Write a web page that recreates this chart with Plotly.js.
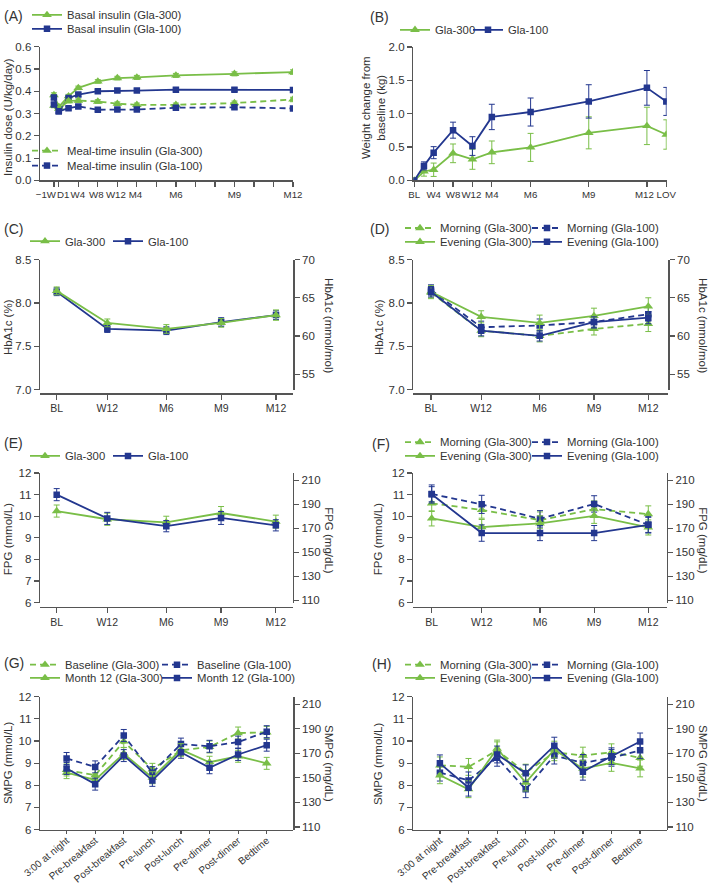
<!DOCTYPE html>
<html><head><meta charset="utf-8">
<script src="https://cdn.plot.ly/plotly-3.0.1.min.js"></script>
<style>html,body{margin:0;padding:0;background:#fff}#chart{width:709px;height:886px}</style>
</head><body><div id="chart"></div>
<script>
// ---------- DATA ----------
// (A) insulin dose, x in months
const aX = [-0.25, 0, 0.5, 1, 2, 3, 4, 6, 9, 12];
const aTickVals = [-0.25, 0, 1, 2, 3, 4, 5, 6, 7, 8, 9, 10, 11, 12];
const aLabelVals = [-0.25, 0, 1, 2, 3, 4, 6, 9, 12];
const aLabelText = ['\u22121W', 'D1', 'W4', 'W8', 'W12', 'M4', 'M6', 'M9', 'M12'];
const basal300 = [0.383, 0.330, 0.378, 0.415, 0.444, 0.459, 0.462, 0.471, 0.478, 0.486];
const basal300Err = [0.010, 0.008, 0.008, 0.008, 0.008, 0.008, 0.009, 0.009, 0.009, 0.010];
const basal100 = [0.372, 0.310, 0.370, 0.385, 0.400, 0.403, 0.403, 0.407, 0.407, 0.406];
const basal100Err = [0.010, 0.008, 0.008, 0.008, 0.008, 0.008, 0.008, 0.008, 0.008, 0.009];
const meal300 = [0.335, 0.322, 0.356, 0.358, 0.354, 0.344, 0.339, 0.339, 0.347, 0.363];
const meal300Err = [0.009, 0.008, 0.008, 0.008, 0.008, 0.008, 0.008, 0.008, 0.009, 0.010];
const meal100 = [0.340, 0.310, 0.324, 0.332, 0.317, 0.318, 0.318, 0.326, 0.328, 0.323];
const meal100Err = [0.009, 0.008, 0.008, 0.008, 0.008, 0.008, 0.008, 0.008, 0.008, 0.009];

// (B) weight change, x in months (LOV = 13)
const bX = [0, 0.5, 1, 2, 3, 4, 6, 9, 12, 13];
const bTickVals = [0, 1, 2, 3, 4, 6, 9, 12, 13];
const bTickText = ['BL', 'W4', 'W8', 'W12', 'M4', 'M6', 'M9', 'M12', 'LOV'];
const wt300 = [0, 0.134, 0.16, 0.406, 0.317, 0.421, 0.495, 0.713, 0.817, 0.688];
const wt300Err = [0, 0.07, 0.10, 0.14, 0.15, 0.17, 0.21, 0.24, 0.28, 0.22];
const wt100 = [0, 0.218, 0.416, 0.753, 0.515, 0.951, 1.025, 1.184, 1.387, 1.184];
const wt100Err = [0, 0.06, 0.09, 0.12, 0.14, 0.19, 0.21, 0.25, 0.26, 0.21];

// (C)-(F) x in weeks
const vX = [0, 12, 26, 39, 52];
const vTickText = ['BL', 'W12', 'M6', 'M9', 'M12'];

// (C) HbA1c
const hba300 = [8.14, 7.77, 7.70, 7.77, 7.86];
const hba300Err = [0.045, 0.045, 0.05, 0.05, 0.06];
const hba100 = [8.13, 7.70, 7.68, 7.78, 7.86];
const hba100Err = [0.045, 0.04, 0.045, 0.05, 0.05];

// (D) HbA1c morning / evening
const hbaMorn300 = [8.12, 7.68, 7.62, 7.70, 7.76];
const hbaMorn300Err = [0.07, 0.07, 0.07, 0.07, 0.09];
const hbaEve300 = [8.13, 7.84, 7.77, 7.85, 7.96];
const hbaEve300Err = [0.07, 0.07, 0.09, 0.09, 0.10];
const hbaMorn100 = [8.15, 7.72, 7.74, 7.78, 7.87];
const hbaMorn100Err = [0.06, 0.07, 0.075, 0.07, 0.08];
const hbaEve100 = [8.13, 7.68, 7.62, 7.78, 7.83];
const hbaEve100Err = [0.06, 0.06, 0.06, 0.06, 0.07];

// (E) FPG
const fpg300 = [10.24, 9.86, 9.72, 10.15, 9.75];
const fpg300Err = [0.28, 0.28, 0.28, 0.30, 0.30];
const fpg100 = [11.0, 9.90, 9.54, 9.92, 9.58];
const fpg100Err = [0.28, 0.28, 0.26, 0.30, 0.26];

// (F) FPG morning / evening
const fpgMorn300 = [10.60, 10.29, 9.82, 10.33, 10.10];
const fpgMorn300Err = [0.38, 0.38, 0.38, 0.38, 0.38];
const fpgEve300 = [9.90, 9.50, 9.67, 10.02, 9.48];
const fpgEve300Err = [0.35, 0.35, 0.35, 0.35, 0.35];
const fpgMorn100 = [11.03, 10.55, 9.88, 10.57, 9.60];
const fpgMorn100Err = [0.42, 0.42, 0.38, 0.38, 0.38];
const fpgEve100 = [11.02, 9.22, 9.22, 9.22, 9.60];
const fpgEve100Err = [0.35, 0.38, 0.35, 0.35, 0.35];

// (G)-(H) SMPG profile
const smpgCats = ['3:00 at night', 'Pre-breakfast', 'Post-breakfast', 'Pre-lunch', 'Post-lunch', 'Pre-dinner', 'Post-dinner', 'Bedtime'];
const smpgBase300 = [8.69, 8.45, 9.98, 8.72, 9.58, 9.73, 10.36, 10.39];
const smpgBase100 = [9.21, 8.83, 10.25, 8.57, 9.86, 9.76, 9.95, 10.42];
const smpgM12_300 = [8.57, 8.24, 9.43, 8.34, 9.61, 9.04, 9.31, 8.99];
const smpgM12_100 = [8.76, 8.05, 9.34, 8.22, 9.49, 8.79, 9.39, 9.81];
const smpgGErr = [0.27, 0.27, 0.27, 0.27, 0.27, 0.27, 0.27, 0.27];
const smpgMorn300 = [8.90, 8.83, 9.58, 8.57, 9.49, 9.34, 9.49, 9.24];
const smpgEve300 = [8.45, 7.82, 9.66, 8.12, 9.61, 8.75, 9.01, 8.76];
const smpgMorn100 = [8.57, 8.22, 9.24, 7.82, 9.34, 9.01, 9.24, 9.58];
const smpgEve100 = [8.99, 7.89, 9.39, 8.54, 9.79, 8.61, 9.31, 9.98];
const smpgHErr = [0.38, 0.38, 0.38, 0.38, 0.38, 0.38, 0.38, 0.38];

// ---------- STYLE / LAYOUT ----------
const W = 709, H = 886;
const px = v => v / W, py = v => 1 - v / H;
const GREEN = '#79BE47', BLUE = '#23378F', AX = '#555', TXT = '#333';
const FONT = '"Liberation Sans", Arial, sans-serif';
const TF = {family: FONT, size: 11.5, color: TXT};
const XF = {family: FONT, size: 10.5, color: TXT};
const XFS = {family: FONT, size: 9.7, color: TXT};
const XFC = {family: FONT, size: 10, color: TXT};
const DASH = '6px,4px';

// legend slots: [item origin x px, row centre y px]
const legendSlots = [];
function tr(name, x, y, err, color, dash, sym, xa, ya, slot) {
  legendSlots.push(slot);
  const n = legendSlots.length;
  return {type: 'scatter', mode: 'lines+markers', name, x, y, xaxis: xa, yaxis: ya,
    legend: n === 1 ? 'legend' : 'legend' + n,
    line: {color, width: 1.8, dash: dash ? DASH : 'solid'},
    marker: {symbol: sym, size: sym === 'triangle-up' ? 8.5 : 6.5, color},
    error_y: {type: 'data', array: err, visible: true, color, thickness: 1, width: 3},
    hoverinfo: 'skip'};
}
const G3 = (n, x, y, e, xa, ya, d, slot) => tr(n, x, y, e, GREEN, d, 'triangle-up', xa, ya, slot);
const B1 = (n, x, y, e, xa, ya, d, slot) => tr(n, x, y, e, BLUE, d, 'square', xa, ya, slot);
function dummy(xa, ya) { return {type: 'scatter', x: [null], y: [null], xaxis: xa, yaxis: ya, showlegend: false, hoverinfo: 'skip'}; }

const LX1 = 27, LXC2 = 108, LXR1 = 400, LXR2 = 527, LXG2 = 157;
const data = [
  G3('Basal insulin (Gla-300)', aX, basal300, basal300Err, 'x', 'y', false, [LX1, 10]),
  B1('Basal insulin (Gla-100)', aX, basal100, basal100Err, 'x', 'y', false, [LX1, 24]),
  G3('Meal-time insulin (Gla-300)', aX, meal300, meal300Err, 'x', 'y', true, [LX1, 147]),
  B1('Meal-time insulin (Gla-100)', aX, meal100, meal100Err, 'x', 'y', true, [LX1, 162]),

  G3('Gla-300', bX, wt300, wt300Err, 'x2', 'y2', false, [395, 25]),
  B1('Gla-100', bX, wt100, wt100Err, 'x2', 'y2', false, [468, 25]),

  B1('Gla-100', vX, hba100, hba100Err, 'x3', 'y3', false, [LXC2, 238.3]),
  G3('Gla-300', vX, hba300, hba300Err, 'x3', 'y3', false, [25, 238.3]),
  dummy('x3', 'y4'),

  G3('Morning (Gla-300)', vX, hbaMorn300, hbaMorn300Err, 'x4', 'y5', true, [LXR1, 225]),
  B1('Morning (Gla-100)', vX, hbaMorn100, hbaMorn100Err, 'x4', 'y5', true, [LXR2, 225]),
  G3('Evening (Gla-300)', vX, hbaEve300, hbaEve300Err, 'x4', 'y5', false, [LXR1, 239]),
  B1('Evening (Gla-100)', vX, hbaEve100, hbaEve100Err, 'x4', 'y5', false, [LXR2, 239]),
  dummy('x4', 'y6'),

  G3('Gla-300', vX, fpg300, fpg300Err, 'x5', 'y7', false, [25, 455]),
  B1('Gla-100', vX, fpg100, fpg100Err, 'x5', 'y7', false, [LXC2, 455]),
  dummy('x5', 'y8'),

  G3('Morning (Gla-300)', vX, fpgMorn300, fpgMorn300Err, 'x6', 'y9', true, [LXR1, 441]),
  B1('Morning (Gla-100)', vX, fpgMorn100, fpgMorn100Err, 'x6', 'y9', true, [LXR2, 441]),
  G3('Evening (Gla-300)', vX, fpgEve300, fpgEve300Err, 'x6', 'y9', false, [LXR1, 455]),
  B1('Evening (Gla-100)', vX, fpgEve100, fpgEve100Err, 'x6', 'y9', false, [LXR2, 455]),
  dummy('x6', 'y10'),

  G3('Baseline (Gla-300)', smpgCats, smpgBase300, smpgGErr, 'x7', 'y11', true, [25, 665.7]),
  B1('Baseline (Gla-100)', smpgCats, smpgBase100, smpgGErr, 'x7', 'y11', true, [LXG2, 665.7]),
  G3('Month 12 (Gla-300)', smpgCats, smpgM12_300, smpgGErr, 'x7', 'y11', false, [25, 679]),
  B1('Month 12 (Gla-100)', smpgCats, smpgM12_100, smpgGErr, 'x7', 'y11', false, [LXG2, 679]),
  dummy('x7', 'y12'),

  G3('Morning (Gla-300)', smpgCats, smpgMorn300, smpgHErr, 'x8', 'y13', true, [LXR1, 665.7]),
  B1('Morning (Gla-100)', smpgCats, smpgMorn100, smpgHErr, 'x8', 'y13', true, [LXR2, 665.7]),
  G3('Evening (Gla-300)', smpgCats, smpgEve300, smpgHErr, 'x8', 'y13', false, [LXR1, 679]),
  B1('Evening (Gla-100)', smpgCats, smpgEve100, smpgHErr, 'x8', 'y13', false, [LXR2, 679]),
  dummy('x8', 'y14'),
  dummy('x9', 'y'),
  dummy('x10', 'y2')
];

const baseAx = {showline: true, linecolor: AX, linewidth: 1.4, ticks: 'outside', ticklen: 5, tickwidth: 1.2,
  tickcolor: AX, showgrid: false, zeroline: false, tickfont: TF, automargin: false, fixedrange: true};
const ax = o => Object.assign({}, baseAx, o);

function ann(text, x, y, angle, size, xanchor) {
  return {text, x: px(x), y: py(y), xref: 'paper', yref: 'paper', showarrow: false, textangle: angle,
    font: {family: FONT, size: size || 11.5, color: TXT}, xanchor: xanchor || 'center', yanchor: 'middle'};
}
const catAx = (dom, anchor) => ax({domain: dom, range: [-0.93, 7.93], anchor, type: 'category', tickangle: -40,
  tickfont: XFC, ticklen: 3, ticklabelstandoff: -3});
const fpgRight = (ov, pos) => ax({overlaying: ov, side: 'right', anchor: 'free', position: px(pos), range: [108, 216], tickvals: [110, 130, 150, 170, 190, 210]});
const hbaRight = (ov, pos) => ax({overlaying: ov, side: 'right', anchor: 'free', position: px(pos), range: [53, 70], tickvals: [55, 60, 65, 70]});

// Label-only overlay axes for the crowded time axes of (A) and (B):
// labels nudged a few pixels sideways so neighbours do not collide.
const aRange = [-0.963, 12], aDom = [40, 293];
const aPxPerUnit = (aDom[1] - aDom[0]) / (aRange[1] - aRange[0]);
const aNudgePx = [-8, 4.5, -0.5, -1.5, -1.5, -1.5, 0, 0, 0];
const bRange = [-0.05, 13.02], bDom = [413.3, 666.7];
const bPxPerUnit = (bDom[1] - bDom[0]) / (bRange[1] - bRange[0]);
const bNudgePx = [0, 0, 0, -1, 0, 0, 0, -2.5, 0];
const labelAx = (ov, anchor, dom, range, vals, nudge, per, text) => ({
  overlaying: ov, anchor, side: 'bottom', domain: dom.map(px), range, showline: false, ticks: 'outside', ticklen: 5,
  tickcolor: 'rgba(0,0,0,0)', showgrid: false, zeroline: false, tickangle: 0, tickfont: XFS, automargin: false, fixedrange: true,
  tickvals: vals.map((v, i) => v + nudge[i] / per), ticktext: text});

const layout = {
  width: W, height: H, margin: {l: 0, r: 0, t: 0, b: 0}, paper_bgcolor: '#fff', plot_bgcolor: 'rgba(0,0,0,0)',
  showlegend: true, font: {family: FONT, color: TXT},
  // A
  xaxis: ax({domain: aDom.map(px), range: aRange, anchor: 'y', tickvals: aTickVals, showticklabels: false}),
  xaxis9: labelAx('x', 'y', aDom, aRange, aLabelVals, aNudgePx, aPxPerUnit, aLabelText),
  yaxis: ax({domain: [py(174), py(39)], range: [0, 0.6], dtick: 0.1, tickformat: '.1f', anchor: 'x'}),
  // B
  xaxis2: ax({domain: bDom.map(px), range: bRange, anchor: 'y2', tickvals: bTickVals, showticklabels: false}),
  xaxis10: labelAx('x2', 'y2', bDom, bRange, bTickVals, bNudgePx, bPxPerUnit, bTickText),
  yaxis2: ax({domain: [py(174), py(39.3)], range: [0, 2], dtick: 0.5, tickformat: '.1f', anchor: 'x2'}),
  // C
  xaxis3: ax({domain: [px(40), px(293.3)], range: [-3.96, 56.1], anchor: 'free', position: py(389), tickvals: vX, ticktext: vTickText, tickangle: 0, tickfont: XF}),
  yaxis3: ax({domain: [py(385), py(254)], range: [7, 8.5], dtick: 0.5, tickformat: '.1f', anchor: 'x3'}),
  yaxis4: hbaRight('y3', 293.3),
  // D
  xaxis4: ax({domain: [px(413.3), px(668.3)], range: [-4.24, 56.79], anchor: 'free', position: py(389), tickvals: vX, ticktext: vTickText, tickangle: 0, tickfont: XF}),
  yaxis5: ax({domain: [py(385), py(254)], range: [7, 8.5], dtick: 0.5, tickformat: '.1f', anchor: 'x4'}),
  yaxis6: hbaRight('y5', 668.3),
  // E
  xaxis5: ax({domain: [px(40), px(292.7)], range: [-3.96, 56.0], anchor: 'free', position: py(604), tickvals: vX, ticktext: vTickText, tickangle: 0, tickfont: XF}),
  yaxis7: ax({domain: [py(600), py(469.3)], range: [6, 12], dtick: 1, anchor: 'x5'}),
  yaxis8: fpgRight('y7', 292.7),
  // F
  xaxis6: ax({domain: [px(413.3), px(666.7)], range: [-4.42, 56.42], anchor: 'free', position: py(604), tickvals: vX, ticktext: vTickText, tickangle: 0, tickfont: XF}),
  yaxis9: ax({domain: [py(600), py(469.3)], range: [6, 12], dtick: 1, anchor: 'x6'}),
  yaxis10: fpgRight('y9', 666.7),
  // G
  xaxis7: catAx([px(40), px(293.3)], 'y11'),
  yaxis11: ax({domain: [py(829), py(695)], range: [6, 12], dtick: 1, anchor: 'x7'}),
  yaxis12: fpgRight('y11', 293.3),
  // H
  xaxis8: catAx([px(413.3), px(666.7)], 'y13'),
  yaxis13: ax({domain: [py(829), py(695)], range: [6, 12], dtick: 1, anchor: 'x8'}),
  yaxis14: fpgRight('y13', 666.7),

  annotations: [
    ann('(A)', 2, 8, 0, 14, 'left'), ann('(B)', 368, 9, 0, 14, 'left'),
    ann('(C)', 2, 223.5, 0, 14, 'left'), ann('(D)', 368, 223.5, 0, 14, 'left'),
    ann('(E)', 2, 438.5, 0, 14, 'left'), ann('(F)', 370, 440, 0, 14, 'left'),
    ann('(G)', 2, 661, 0, 14, 'left'), ann('(H)', 370, 662, 0, 14, 'left'),
    ann('Insulin dose (U/kg/day)', 8, 110, -90),
    ann('Weight change from<br>baseline (kg)', 373, 100, -90),
    ann('HbA1c (%)', 8, 322, -90), ann('HbA1c (mmol/mol)', 329, 320, 90),
    ann('HbA1c (%)', 379, 322, -90), ann('HbA1c (mmol/mol)', 703, 320, 90),
    ann('FPG (mmol/L)', 8, 536, -90), ann('FPG (mg/dL)', 329, 537, 90),
    ann('FPG (mmol/L)', 378, 536, -90), ann('FPG (mg/dL)', 703, 537, 90),
    ann('SMPG (mmol/L)', 8, 762, -90), ann('SMPG (mg/dL)', 329, 762, 90),
    ann('SMPG (mmol/L)', 378, 762, -90), ann('SMPG (mg/dL)', 703, 762, 90)
  ]
};

// one legend per entry, placed at its slot
legendSlots.forEach((s, i) => {
  const key = i === 0 ? 'legend' : 'legend' + (i + 1);
  layout[key] = {x: px(s[0]), y: py(s[1] - 3), xref: 'paper', yref: 'paper', xanchor: 'left', yanchor: 'middle',
    orientation: 'h', font: {family: FONT, size: 11.3, color: TXT}, bgcolor: 'rgba(0,0,0,0)', itemwidth: 30};
});

Plotly.newPlot('chart', data, layout, {staticPlot: true, displayModeBar: false});
</script></body></html>
